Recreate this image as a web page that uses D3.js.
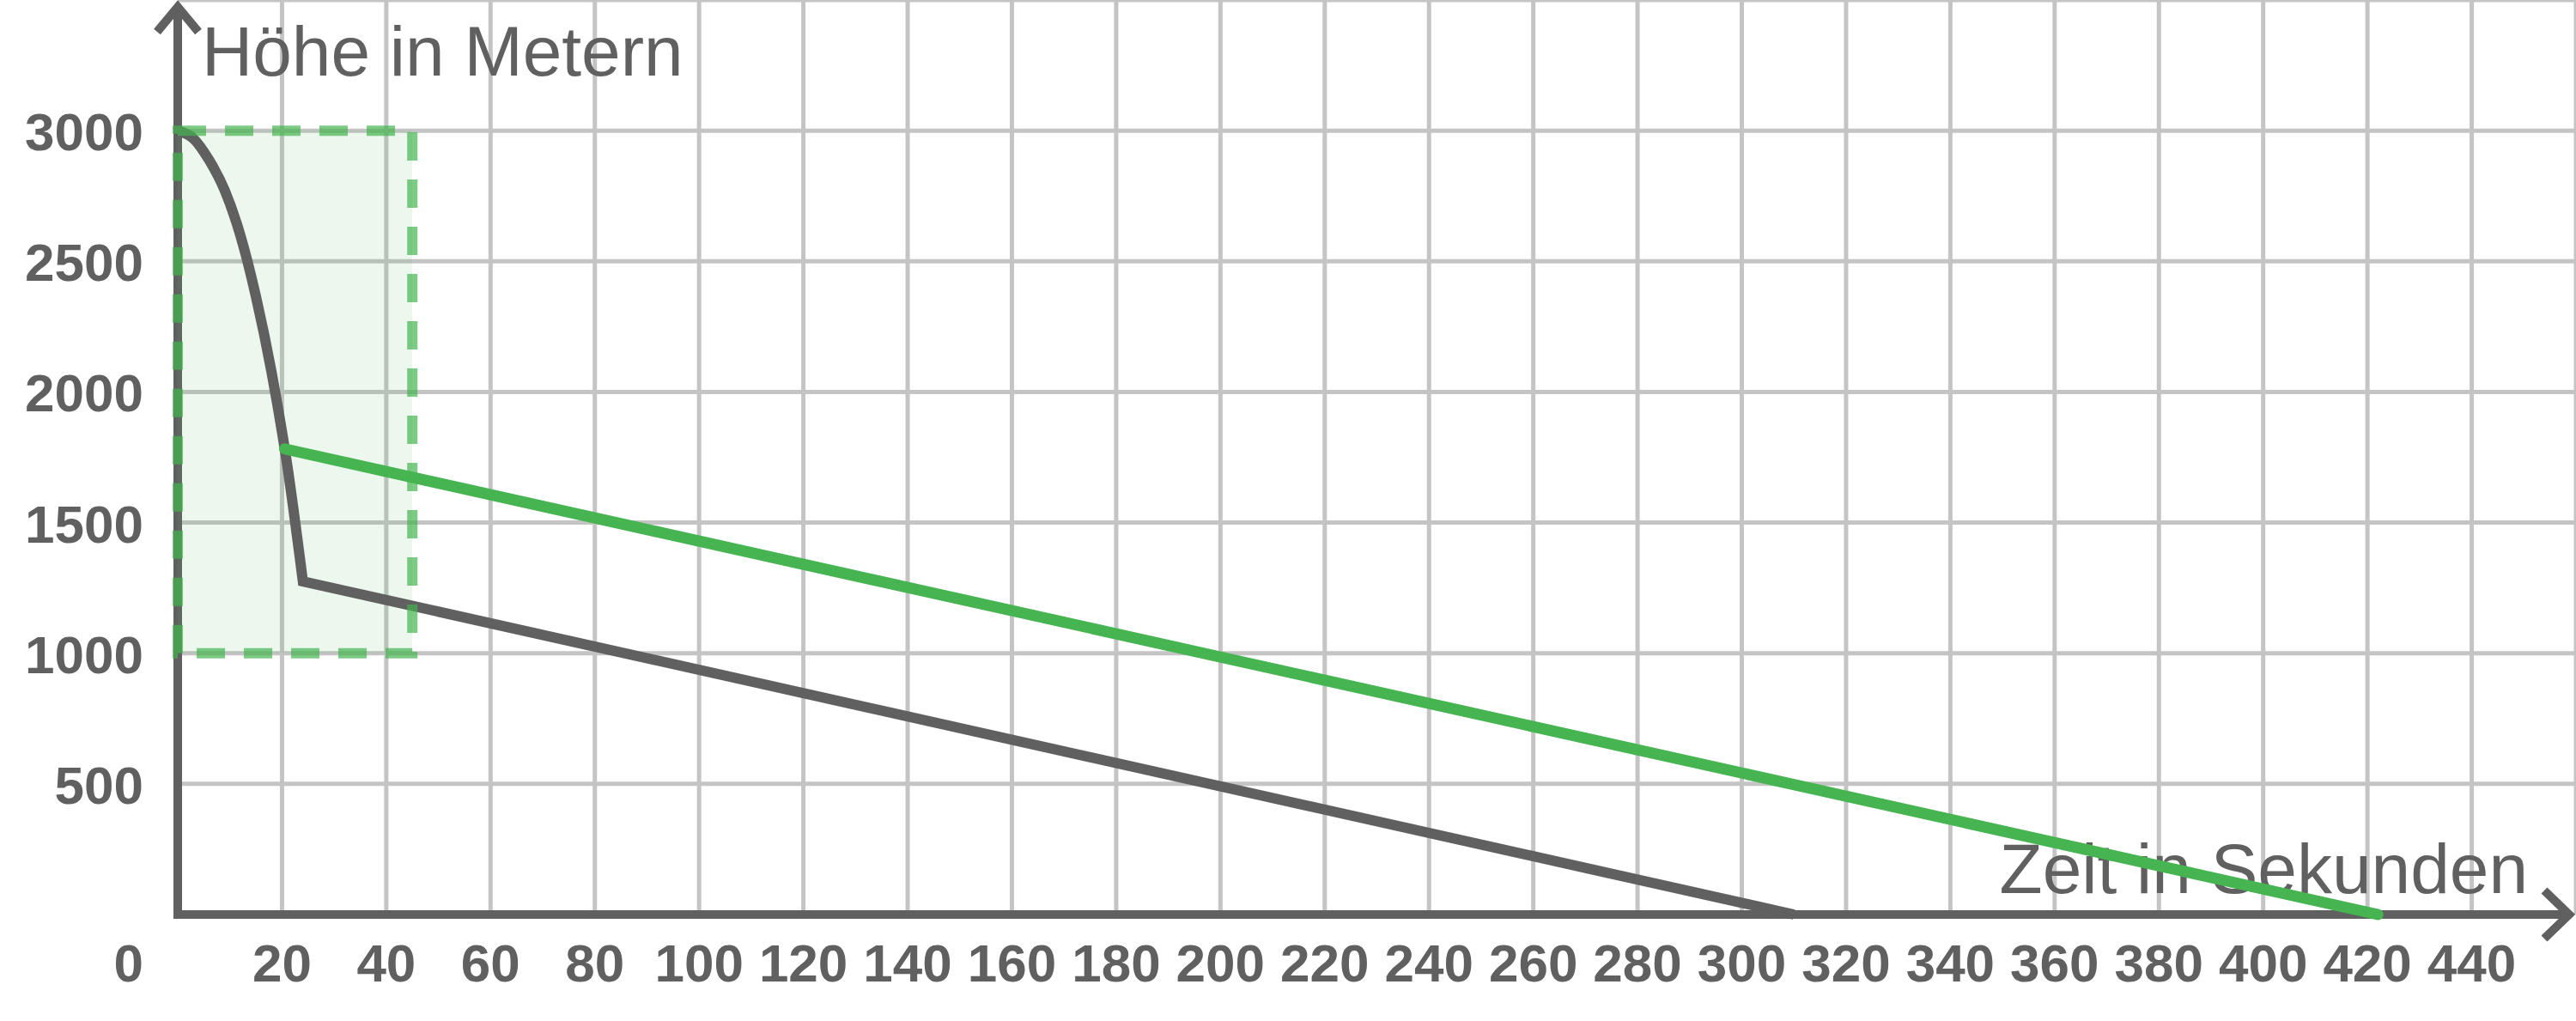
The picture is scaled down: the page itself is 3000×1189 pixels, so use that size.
<!DOCTYPE html>
<html>
<head>
<meta charset="utf-8">
<script src="https://cdn.jsdelivr.net/npm/d3@7"></script>
<style>
  html, body { margin: 0; padding: 0; background: #ffffff; }
  svg { display: block; }
</style>
</head>
<body>
<script>
// ---- data ----
const xTickLabels = [0, 20, 40, 60, 80, 100, 120, 140, 160, 180, 200, 220, 240, 260, 280, 300, 320, 340, 360, 380, 400, 420, 440];
const yTickLabels = [500, 1000, 1500, 2000, 2500, 3000];
const xGridValues = [20, 40, 60, 80, 100, 120, 140, 160, 180, 200, 220, 240, 260, 280, 300, 320, 340, 360, 380, 400, 420, 440, 460];
const yGridValues = [500, 1000, 1500, 2000, 2500, 3000, 3500];

// free fall phase (dark grey)
const fallTime   = [0, 3, 6, 9, 12, 15, 18, 21, 24];
const fallHeight = [3000, 2970, 2888, 2772, 2600, 2365, 2075, 1720, 1275];
// parachute phase (dark grey)
const chuteTime   = [24, 310];
const chuteHeight = [1275, 0];
// green jump
const greenTime   = [20.5, 422];
const greenHeight = [1782, 0];
// highlighted box
const boxTime   = [0, 45];
const boxHeight = [1000, 3000];

const xTitle = "Zeit in Sekunden";
const yTitle = "Höhe in Metern";

// ---- drawing ----
const W = 3000, H = 1189;
const grey = "#606060", green = "#46b450", gridColor = "#c4c4c4";
const font = "'Liberation Sans', Arial, Helvetica, sans-serif";

const svg = d3.select("body").append("svg").attr("width", W).attr("height", H);
const x = d3.scaleLinear().domain([0, 460]).range([207, 3000]);
const y = d3.scaleLinear().domain([0, 3500]).range([1065, 0]);

// grid
svg.append("g").selectAll("line").data(xGridValues).join("line")
  .attr("x1", d => x(d)).attr("x2", d => x(d))
  .attr("y1", 0).attr("y2", y(0))
  .attr("stroke", gridColor).attr("stroke-width", 5);
svg.append("g").selectAll("line").data(yGridValues).join("line")
  .attr("x1", x(0)).attr("x2", W)
  .attr("y1", d => y(d)).attr("y2", d => y(d))
  .attr("stroke", gridColor).attr("stroke-width", 5);

// axes
const ax = svg.append("g").attr("stroke", grey).attr("stroke-width", 10).attr("fill", "none");
ax.append("line").attr("x1", x(0)).attr("x2", x(0)).attr("y1", y(0) + 5).attr("y2", 8);
ax.append("polyline").attr("points", `${x(0) - 24},37 ${x(0)},8 ${x(0) + 24},37`);
ax.append("line").attr("x1", x(0) - 5).attr("x2", 2992).attr("y1", y(0)).attr("y2", y(0));
ax.append("polyline").attr("points", `2963,${y(0) - 28} 2992,${y(0)} 2963,${y(0) + 28}`);

// tick labels
svg.append("g").selectAll("text").data(yTickLabels).join("text")
  .attr("x", 167).attr("y", d => y(d) + 23)
  .attr("text-anchor", "end")
  .attr("font-family", font).attr("font-weight", "bold").attr("font-size", 62)
  .attr("fill", grey).text(d => d);
svg.append("g").selectAll("text").data(xTickLabels).join("text")
  .attr("x", d => d === 0 ? 167 : x(d)).attr("y", 1143)
  .attr("text-anchor", d => d === 0 ? "end" : "middle")
  .attr("font-family", font).attr("font-weight", "bold").attr("font-size", 62)
  .attr("fill", grey).text(d => d);

// titles
svg.append("text").attr("x", 235).attr("y", 88)
  .attr("font-family", font).attr("font-size", 82).attr("fill", grey).text(yTitle);
svg.append("text").attr("x", 2944).attr("y", 1040).attr("text-anchor", "end")
  .attr("font-family", font).attr("font-size", 82).attr("fill", grey).text(xTitle);

// box fill
svg.append("rect")
  .attr("x", x(boxTime[0])).attr("y", y(boxHeight[1]))
  .attr("width", x(boxTime[1]) - x(boxTime[0]))
  .attr("height", y(boxHeight[0]) - y(boxHeight[1]))
  .attr("fill", green).attr("fill-opacity", 0.1);

// dark line
const fallPts = fallTime.map((t, i) => [t, fallHeight[i]]);
const chutePts = chuteTime.map((t, i) => [t, chuteHeight[i]]);
const curve = d3.line().x(d => x(d[0])).y(d => y(d[1])).curve(d3.curveMonotoneX);
const straight = d3.line().x(d => x(d[0])).y(d => y(d[1]));
svg.append("path")
  .attr("d", curve(fallPts) + straight(chutePts).replace(/^M/, "L"))
  .attr("fill", "none").attr("stroke", grey).attr("stroke-width", 12)
  .attr("stroke-linejoin", "miter");

// green line
svg.append("path")
  .attr("d", straight(greenTime.map((t, i) => [t, greenHeight[i]])))
  .attr("fill", "none").attr("stroke", green).attr("stroke-width", 13)
  .attr("stroke-linecap", "round");

// box dashed stroke
svg.append("rect")
  .attr("x", x(boxTime[0])).attr("y", y(boxHeight[1]))
  .attr("width", x(boxTime[1]) - x(boxTime[0]))
  .attr("height", y(boxHeight[0]) - y(boxHeight[1]))
  .attr("fill", "none").attr("stroke", green).attr("stroke-opacity", 0.7)
  .attr("stroke-width", 12).attr("stroke-dasharray", "33 22");
</script>
</body>
</html>
